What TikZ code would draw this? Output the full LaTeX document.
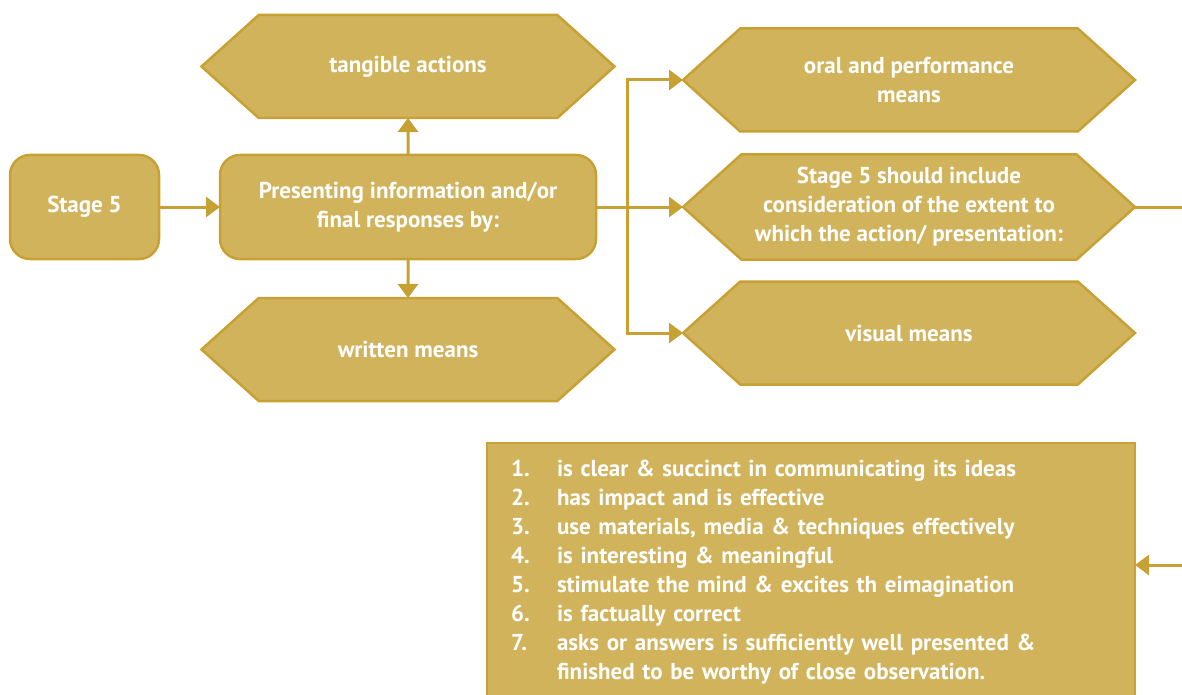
\documentclass[tikz,border=0pt]{standalone}
\usepackage{fontspec}
\setmainfont{PT Sans}
\usetikzlibrary{positioning,shapes.symbols,arrows.meta}

\definecolor{goldfill}{RGB}{209,179,92}
\definecolor{goldline}{RGB}{200,161,52}

\tikzset{
  box/.style={draw=goldline, fill=goldfill, line width=2.5pt, outer sep=0pt, text=white,
    font=\fontsize{23}{29}\selectfont\bfseries, align=center},
  stepbox/.style={box, rounded corners=20pt},
  hexa/.style={box, signal, signal to=west and east, signal pointer angle=84,
    minimum height=103pt, inner sep=0pt},
  link/.style={draw=goldline, line width=3pt, -{Triangle[length=14pt,width=20pt]}},
}

\begin{document}
\begin{tikzpicture}[x=1pt, y=-1pt]
  \useasboundingbox (0,0) rectangle (1182,695);

  \node [stepbox, minimum width=149pt, minimum height=104pt] (stage) at (84.5,207) {Stage 5};
  \node [stepbox, minimum width=376pt, minimum height=104pt, right=61pt of stage] (present)
    {Presenting information and/or\\final responses by:};

  \node [hexa, minimum width=413pt, above=37pt of present] (tangible) {tangible actions};
  \node [hexa, minimum width=413pt, below=39pt of present] (written) {written means};

  \node [hexa, minimum width=452pt, minimum height=105pt, right=87pt of present] (should)
    {Stage 5 should include\\consideration of the extent to\\which the action/ presentation:};
  \node [hexa, minimum width=452pt, above=23pt of should] (oral) {oral and performance\\means};
  \node [hexa, minimum width=452pt, below=22pt of should] (visual) {visual means};

  \node [box, anchor=north west, text width=600pt, inner xsep=24pt, inner ysep=17pt,
    align=left] (list) at (487,443) {%
    \makebox[46pt][l]{1.}is clear \& succinct in communicating its ideas\\
    \makebox[46pt][l]{2.}has impact and is effective\\
    \makebox[46pt][l]{3.}use materials, media \& techniques effectively\\
    \makebox[46pt][l]{4.}is interesting \& meaningful\\
    \makebox[46pt][l]{5.}stimulate the mind \& excites th eimagination\\
    \makebox[46pt][l]{6.}is factually correct\\
    \makebox[46pt][l]{7.}asks or answers is sufficiently well presented \&\\
    \hspace*{46pt}finished to be worthy of close observation.};

  \coordinate (fork) at (627,207);
  \coordinate (turn) at (1184,565);

  \draw [link] (stage) -- (present);
  \draw [link] (present) -- (tangible);
  \draw [link] (present) -- (written);
  \draw [link] (present.east) -- (should.west);
  \draw [link] (fork) |- (oral.west);
  \draw [link] (fork) |- (visual.west);
  \draw [link] (should.east) -| (turn) -- (list.east |- turn);
\end{tikzpicture}
\end{document}
